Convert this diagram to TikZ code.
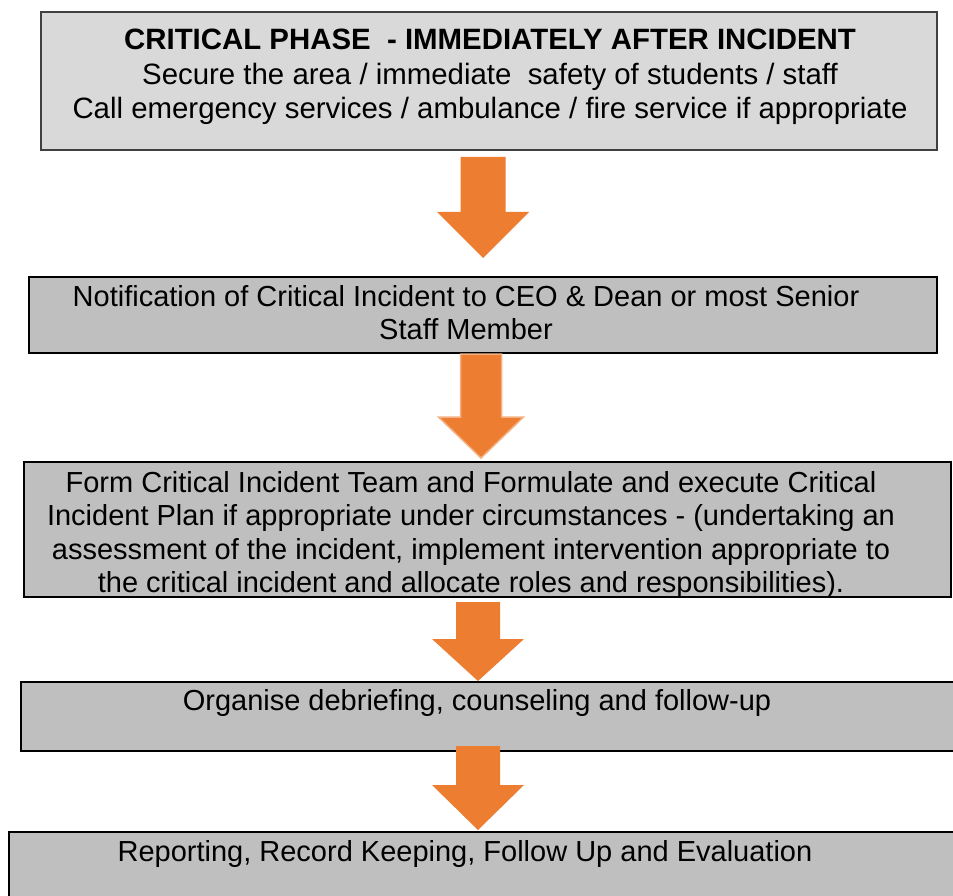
\documentclass[tikz,border=0pt]{standalone}
\usepackage{fontspec}
\setmainfont{Liberation Sans}
\usetikzlibrary{calc}

\definecolor{phasefill}{HTML}{D9D9D9}
\definecolor{phaseline}{HTML}{404040}
\definecolor{stepfill}{HTML}{BFBFBF}
\definecolor{flow}{HTML}{ED7D31}
\definecolor{flowedge}{HTML}{F4B183}

% Block arrow pointing down: #1 top coordinate, #2 tip coordinate,
% #3 half shaft width, #4 half head width, #5 head length, #6 extra style
\newcommand{\flowarrow}[6]{%
  \path let \p1=(#1), \p2=(#2) in
    [flowstyle,#6] (\x2-#3,\y1) -- (\x2+#3,\y1) -- (\x2+#3,\y2+#5)
    -- (\x2+#4,\y2+#5) -- (\x2,\y2) -- (\x2-#4,\y2+#5)
    -- (\x2-#3,\y2+#5) -- cycle;}

\tikzset{
  boxbase/.style={rectangle, inner sep=0pt, outer sep=0pt, anchor=north west},
  phasebox/.style={boxbase, fill=phasefill, draw=phaseline, line width=1.5pt},
  stepbox/.style={boxbase, fill=stepfill, draw=black, line width=2.5pt},
  boxtext/.style={inner sep=0pt, anchor=north, align=center,
    font=\fontsize{29}{33.5}\selectfont},
  flowstyle/.style={fill=flow},
}

\begin{document}
\begin{tikzpicture}[x=1pt, y=-1pt]
\clip (0,0) rectangle (953,896);
\fill[white] (0,0) rectangle (953,896);

% boxes
\node[phasebox, minimum width=896pt, minimum height=138pt] (b1) at (41,12) {};
\node[stepbox, minimum width=908pt, minimum height=76pt] (b2) at (29,277) {};
\node[stepbox, minimum width=927pt, minimum height=135pt] (b3) at (24,462) {};
\node[stepbox, minimum width=944pt, minimum height=69pt] (b4) at (21,682) {};
\node[stepbox, minimum width=956pt, minimum height=78pt] (b5) at (9,832) {};

% box texts
\node[boxtext, font=\fontsize{29.4}{34}\selectfont] (t1) at (490,29) {\textbf{CRITICAL PHASE\ \ - IMMEDIATELY AFTER INCIDENT}\\[1pt]
  Secure the area / immediate\ \ safety of students / staff\\
  Call emergency services / ambulance / fire service if appropriate};
\node[boxtext] (t2) at (466,285) {Notification of Critical Incident to CEO \& Dean or most Senior\\
  Staff Member};
\node[boxtext] (t3) at (471,471) {Form Critical Incident Team and Formulate and execute Critical\\
  Incident Plan if appropriate under circumstances - (undertaking an\\
  assessment of the incident, implement intervention appropriate to\\
  the critical incident and allocate roles and responsibilities).};
\node[boxtext] (t4) at (477,689) {Organise debriefing, counseling and follow-up};
\node[boxtext] (t5) at (465,840) {Reporting, Record Keeping, Follow Up and Evaluation};

% arrow end points
\coordinate (a1top) at (483.5,157);
\coordinate (a1tip) at (483,258);
\coordinate (a2top) at (480.5,354);
\coordinate (a2tip) at (481,458);
\coordinate (a3top) at (478,602);
\coordinate (a3tip) at (478,681);
\coordinate (a4top) at (478,746);
\coordinate (a4tip) at (478,830);

% arrows
\flowarrow{a1top}{a1tip}{22.5pt}{46pt}{46pt}{}
\flowarrow{a2top}{a2tip}{20.5pt}{42.5pt}{41pt}{draw=flowedge, line width=1.5pt}
\flowarrow{a3top}{a3tip}{22pt}{46pt}{42pt}{}
\flowarrow{a4top}{a4tip}{22pt}{46pt}{45pt}{}
\end{tikzpicture}
\end{document}
